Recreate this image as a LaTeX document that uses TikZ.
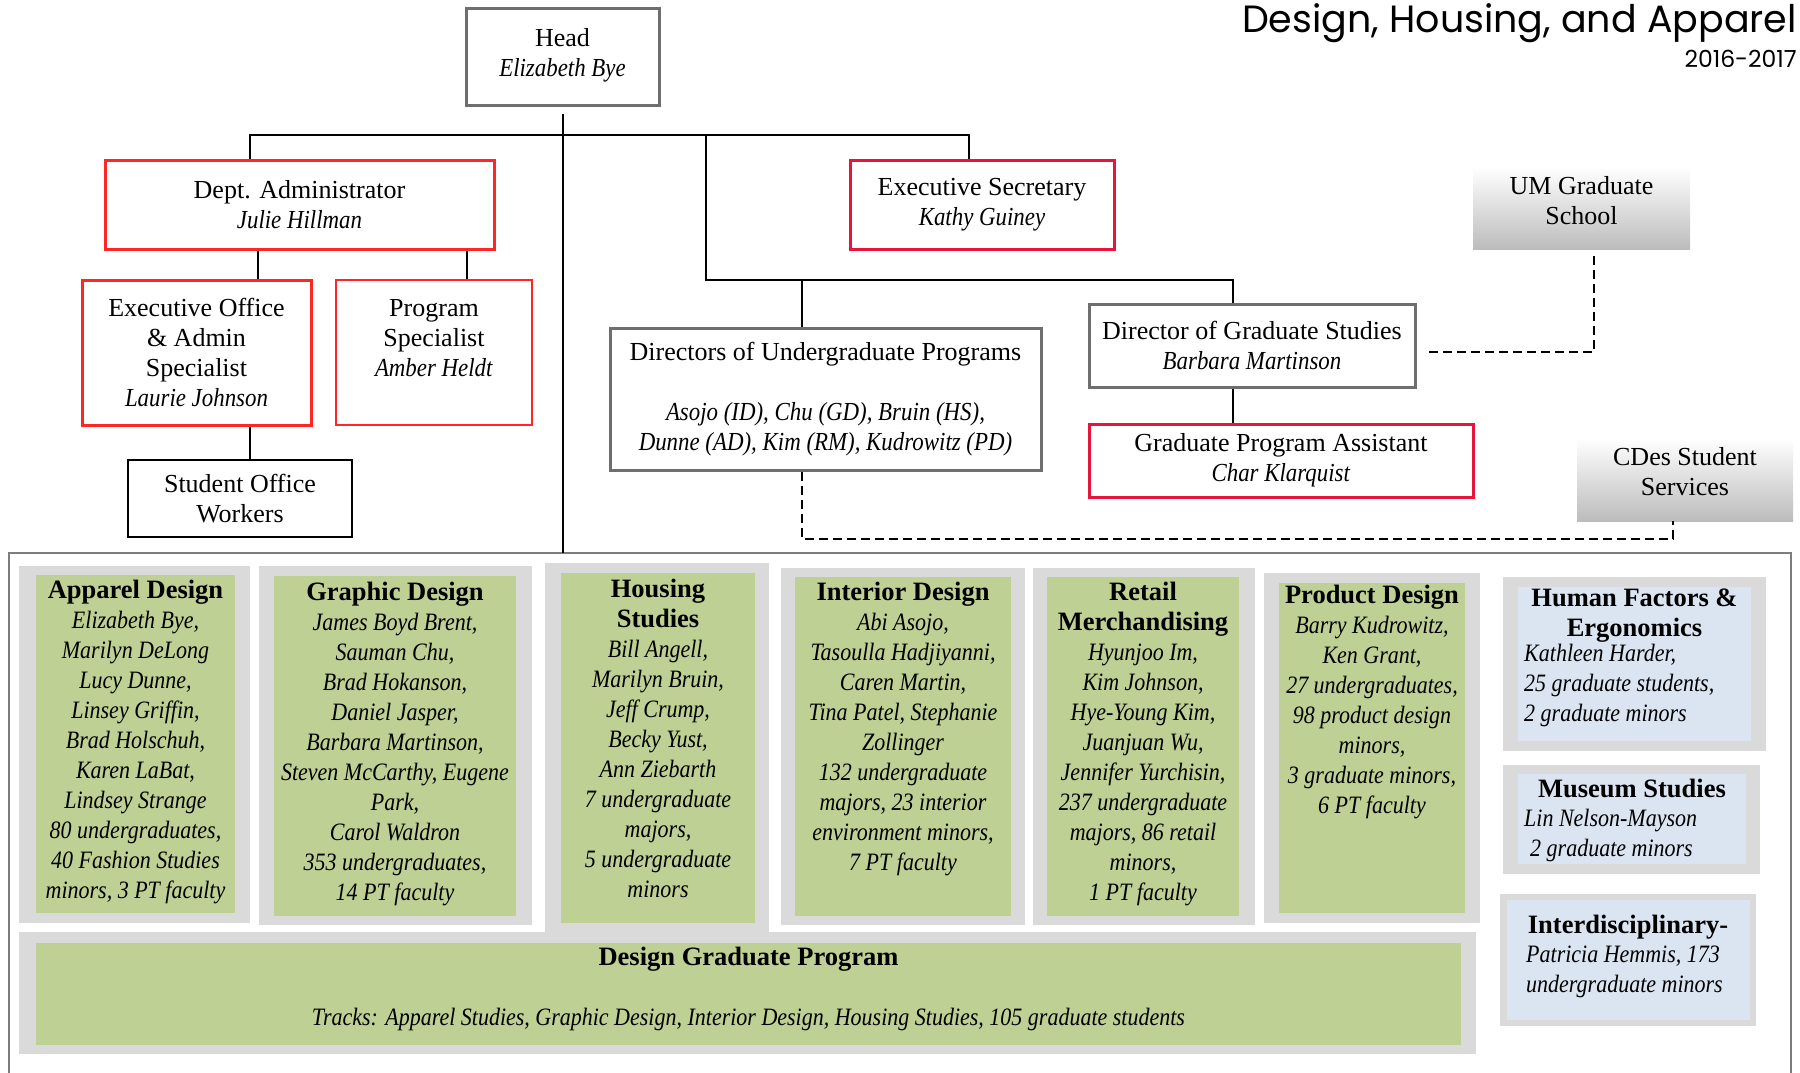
\documentclass[tikz,border=0pt]{standalone}
\usepackage{fontspec}
\setmainfont{Liberation Serif}[ItalicFeatures={FakeStretch=0.88}]
\newfontfamily\titlefont{Poppins}
\definecolor{boxgray}{RGB}{110, 110, 110}
\definecolor{framegray}{RGB}{125, 125, 125}
\definecolor{boxred}{RGB}{255, 38, 38}
\definecolor{boxpink}{RGB}{232, 20, 60}
\definecolor{shadegray}{RGB}{188, 188, 188}
\definecolor{panelgray}{RGB}{218, 218, 218}
\definecolor{olive}{RGB}{190, 208, 148}
\definecolor{paleblue}{RGB}{219, 229, 241}
\usetikzlibrary{positioning}
\usetikzlibrary{calc}
\newcommand{\hd}[1]{{\fontsize{26.5}{30}\selectfont\bfseries\upshape #1}}

\begin{document}
\begin{tikzpicture}[x=1pt, y=-1pt,
    orgbox/.style={align=center, font=\fontsize{26}{30}\selectfont, inner sep=0pt},
    graybox/.style={orgbox, draw=boxgray, line width=3pt},
    redbox/.style={orgbox, draw=boxred, line width=3pt},
    pinkbox/.style={orgbox, draw=boxpink, line width=3pt},
    blackbox/.style={orgbox, draw=black, line width=2.5pt},
    shadebox/.style={orgbox, top color=white, bottom color=shadegray},
    conn/.style={line width=2pt},
    dashconn/.style={line width=2pt, dash pattern=on 9pt off 5pt},
    paneltext/.style={align=center, font=\fontsize{25}{30}\selectfont\itshape, inner sep=0pt, anchor=north}]
    \useasboundingbox (0,0) rectangle (1800,1073);

    % Title
    \node[font=\titlefont\fontsize{38}{42}\selectfont, anchor=base east, inner sep=0pt] (title) at (1797,33) {Design, Housing, and Apparel};
    \node[font=\titlefont\fontsize{23.5}{26}\selectfont, anchor=base east, inner sep=0pt] (year) at (1797,67) {2016-2017};

    % Head and staff
    \node[graybox, minimum width=193pt, minimum height=96pt] (head) at (562.5,57) {Head\\\textit{Elizabeth Bye}\\[-21pt]\mbox{}};
    \node[redbox, minimum width=389pt, minimum height=89pt] (admin) at (299.5,204.5) {Dept. Administrator\\\textit{Julie Hillman}};
    \node[pinkbox, minimum width=264pt, minimum height=89pt] (execsec) at (982,204.5) {Executive Secretary\\\textit{Kathy Guiney}};
    \node[redbox, minimum width=229pt, minimum height=145pt] (execoff) at (196.5,352.5) {Executive Office\\\& Admin\\Specialist\\\textit{Laurie Johnson}};
    \node[orgbox, draw=boxred, line width=1.5pt, minimum width=196pt, minimum height=145pt] (progspec) at (434,352.5) {Program\\Specialist\\\textit{Amber Heldt}\\\mbox{}};
    \node[blackbox, minimum width=224pt, minimum height=77pt] (students) at (240,498.5) {Student Office\\Workers};

    % Directors
    \node[graybox, minimum width=431pt, minimum height=142pt] (ugdir) at (825.5,399) {Directors of Undergraduate Programs\\[30pt]\textit{Asojo (ID), Chu (GD), Bruin (HS),}\\\textit{Dunne (AD), Kim (RM), Kudrowitz (PD)}};
    \node[graybox, minimum width=326pt, minimum height=83pt] (graddir) at (1252,345.5) {Director of Graduate Studies\\\textit{Barbara Martinson}};
    \node[pinkbox, minimum width=384pt, minimum height=73pt] (gradasst) at (1281,460.5) {Graduate Program Assistant\\\textit{Char Klarquist}};

    % Outside units
    \node[shadebox, minimum width=217pt, minimum height=82pt] (umgrad) at (1581.5,208) {UM Graduate\\School\\[-14pt]\mbox{}};
    \node[shadebox, minimum width=216pt, minimum height=83pt] (cdes) at (1685,479.5) {CDes Student\\Services\\[-14pt]\mbox{}};

    % Frame round the programs
    \coordinate (frame) at (9,553);
    \draw[framegray, line width=2.5pt] (9,1080) -- (frame) -- (1791,553) -- (1791,1080);

    % Solid connectors
    \coordinate (topbar) at (706,136);
    \coordinate (ugbar) at (706,280);
    \draw[conn] ([yshift=-7pt]head.south) -- (head.south |- frame);
    \draw[conn] ([xshift=-49.5pt]admin.north) -- ++(0,-24) -| ([xshift=-13pt]execsec.north);
    \draw[conn] (topbar) -- (ugbar) -| ([xshift=-19pt]graddir.north);
    \draw[conn] ([xshift=-23.5pt]ugdir.north) -- ([xshift=-23.5pt]ugdir.north |- ugbar);
    \draw[conn] ([xshift=61.5pt]execoff.north) -- ([xshift=61.5pt]execoff.north |- admin.south);
    \draw[conn] ([xshift=33pt]progspec.north) -- ([xshift=33pt]progspec.north |- admin.south);
    \draw[conn] ([xshift=10pt]students.north) -- ([xshift=10pt]students.north |- execoff.south);
    \draw[conn] ([xshift=-19pt]graddir.south) -- ([xshift=-19pt]graddir.south |- gradasst.north);

    % Dashed connectors
    \draw[dashconn] ([xshift=12.5pt,yshift=-7pt]umgrad.south) |- ([xshift=12pt,yshift=-6.5pt]graddir.east);
    \draw[dashconn] ([xshift=-23.5pt]ugdir.south) -- ++(0,67) -| ([xshift=-12pt]cdes.south);

    % Apparel Design
    \fill[panelgray] (19,566) rectangle (250,923);
    \fill[olive] (36,575) rectangle (235,913);
    \node[paneltext] (apparel) at (135.5,580) {\hd{Apparel Design}\\Elizabeth Bye,\\Marilyn DeLong\\Lucy Dunne,\\Linsey Griffin,\\Brad Holschuh,\\Karen LaBat,\\Lindsey Strange\\80 undergraduates,\\40 Fashion Studies\\minors, 3 PT faculty};

    % Graphic Design
    \fill[panelgray] (259,566) rectangle (532,925);
    \fill[olive] (274,576) rectangle (516,916);
    \node[paneltext] (graphic) at (395,582) {\hd{Graphic Design}\\James Boyd Brent,\\Sauman Chu,\\Brad Hokanson,\\Daniel Jasper,\\Barbara Martinson,\\Steven McCarthy, Eugene\\Park,\\Carol Waldron\\353 undergraduates,\\14 PT faculty};

    % Housing Studies
    \fill[panelgray] (545,563) rectangle (769,932);
    \fill[olive] (561,573) rectangle (755,923);
    \node[paneltext] (housing) at (658,579) {\hd{Housing}\\\hd{Studies}\\Bill Angell,\\Marilyn Bruin,\\Jeff Crump,\\Becky Yust,\\Ann Ziebarth\\7 undergraduate\\majors,\\5 undergraduate\\minors};

    % Interior Design
    \fill[panelgray] (781,568) rectangle (1025,925);
    \fill[olive] (795,577) rectangle (1011,916);
    \node[paneltext] (interior) at (903,582) {\hd{Interior Design}\\Abi Asojo,\\Tasoulla Hadjiyanni,\\Caren Martin,\\Tina Patel, Stephanie\\Zollinger\\132 undergraduate\\majors, 23 interior\\environment minors,\\7 PT faculty};

    % Retail Merchandising
    \fill[panelgray] (1033,568) rectangle (1255,925);
    \fill[olive] (1047,577) rectangle (1239,916);
    \node[paneltext] (retail) at (1143,582) {\hd{Retail}\\\hd{Merchandising}\\Hyunjoo Im,\\Kim Johnson,\\Hye-Young Kim,\\Juanjuan Wu,\\Jennifer Yurchisin,\\237 undergraduate\\majors, 86 retail\\minors,\\1 PT faculty};

    % Product Design
    \fill[panelgray] (1264,573) rectangle (1480,923);
    \fill[olive] (1279,583) rectangle (1465,913);
    \node[paneltext] (product) at (1372,585) {\hd{Product Design}\\Barry Kudrowitz,\\Ken Grant,\\27 undergraduates,\\98 product design\\minors,\\3 graduate minors,\\6 PT faculty};

    % Human Factors & Ergonomics
    \fill[panelgray] (1503,577) rectangle (1766,751);
    \fill[paleblue] (1518,587) rectangle (1751,741);
    \node[paneltext] (hfe-title) at (1634.5,589) {\hd{Human Factors \&}\\\hd{Ergonomics}};
    \node[paneltext, anchor=north west, align=left] (hfe) at (1524,644) {Kathleen Harder,\\25 graduate students,\\2 graduate minors};

    % Museum Studies
    \fill[panelgray] (1503,765) rectangle (1760,874);
    \fill[paleblue] (1518,774) rectangle (1746,864);
    \node[paneltext] (museum-title) at (1632,779) {\hd{Museum Studies}};
    \node[paneltext, anchor=north west, align=left] (museum) at (1524,809) {Lin Nelson-Mayson\\\hspace*{6pt}2 graduate minors};

    % Interdisciplinary
    \fill[panelgray] (1500,894) rectangle (1756,1026);
    \fill[paleblue] (1507,900) rectangle (1750,1020);
    \node[paneltext] (interdis-title) at (1628,915) {\hd{Interdisciplinary-}};
    \node[paneltext, anchor=north west, align=left] (interdis) at (1526,946) {Patricia Hemmis, 173\\undergraduate minors};

    % Design Graduate Program
    \fill[panelgray] (19,932) rectangle (1476,1054);
    \fill[olive] (36,943) rectangle (1461,1045);
    \node[paneltext] (gradprog) at (748.5,947) {\hd{Design Graduate Program}\\[30pt]Tracks: Apparel Studies, Graphic Design, Interior Design, Housing Studies, 105 graduate students};
\end{tikzpicture}
\end{document}
